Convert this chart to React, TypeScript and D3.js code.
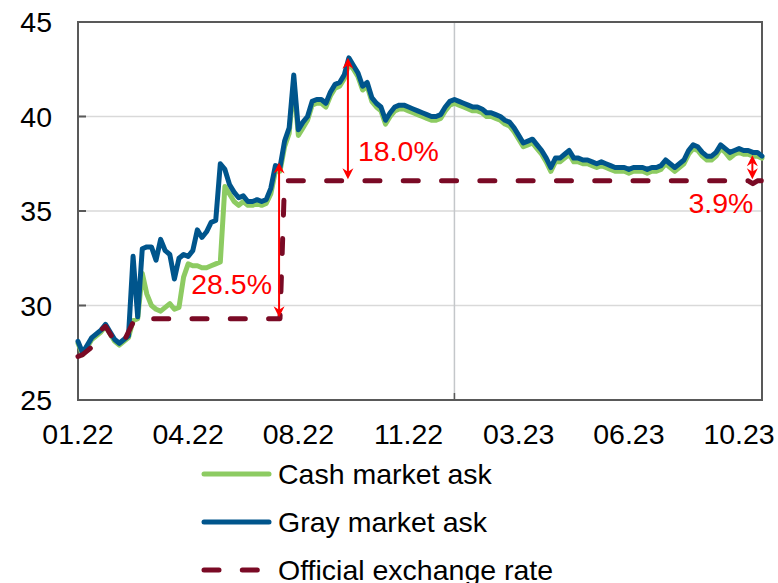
import React from "react";
import * as d3 from "d3";

// Period labels along the x axis, one every `tickStep` observations
const tickLabels = ["01.22", "04.22", "08.22", "11.22", "03.23", "06.23", "10.23"];
const tickStep = 24;
// Observation at which the calendar year changes (marked by a vertical rule)
const yearBreakIndex = 82;

const yTicks = [25, 30, 35, 40, 45];

// Gray market ask rate
const grayAsk = [
  28.1, 27.5, 27.9, 28.3, 28.5, 28.7, 29.0, 28.6, 28.2, 28.0,
  28.2, 28.4, 32.6, 29.4, 33.0, 33.1, 33.1, 32.4, 33.5, 32.9,
  32.7, 31.4, 32.5, 32.7, 32.6, 32.9, 34.0, 33.6, 33.9, 34.4,
  34.5, 37.5, 37.2, 36.4, 36.0, 35.7, 35.8, 35.5, 35.5, 35.6,
  35.5, 35.6, 36.2, 37.4, 37.3, 38.7, 39.4, 42.2, 39.3, 39.7,
  40.0, 40.8, 40.9, 40.9, 40.7, 41.3, 41.7, 41.8, 42.2, 43.1,
  42.7, 42.3, 41.6, 41.8, 41.0, 40.7, 40.5, 39.8, 40.2, 40.5,
  40.6, 40.6, 40.5, 40.4, 40.3, 40.2, 40.1, 40.0, 40.0, 40.1,
  40.5, 40.8, 40.9, 40.8, 40.7, 40.6, 40.5, 40.5, 40.4, 40.2,
  40.2, 40.1, 40.0, 39.8, 39.7, 39.4, 39.0, 38.6, 38.7, 38.8,
  38.5, 38.2, 37.8, 37.3, 37.8, 37.8, 38.0, 38.2, 37.8, 37.8,
  37.7, 37.7, 37.6, 37.5, 37.6, 37.5, 37.4, 37.3, 37.3, 37.3,
  37.2, 37.3, 37.3, 37.3, 37.2, 37.3, 37.3, 37.4, 37.7, 37.5,
  37.3, 37.5, 37.7, 38.2, 38.5, 38.4, 38.1, 37.9, 37.9, 38.1,
  38.5, 38.3, 38.1, 38.2, 38.3, 38.2, 38.2, 38.1, 38.1, 37.9,
];

// Cash market ask rate
const cashAsk = [
  28.0, 27.4, 27.8, 28.2, 28.4, 28.6, 28.9, 28.5, 28.1, 27.9,
  28.1, 28.3, 29.2, 29.3, 31.7, 30.6, 30.0, 29.8, 29.7, 29.9,
  30.1, 29.8, 29.9, 31.5, 32.2, 32.1, 32.1, 32.0, 32.0, 32.1,
  32.2, 32.3, 36.3, 35.9, 35.5, 35.3, 35.5, 35.3, 35.3, 35.4,
  35.3, 35.4, 35.9, 37.1, 37.1, 38.4, 39.1, 41.8, 39.0, 39.4,
  39.8, 40.6, 40.7, 40.7, 40.5, 41.1, 41.5, 41.6, 42.0, 42.8,
  42.5, 42.1, 41.4, 41.6, 40.8, 40.5, 40.3, 39.6, 40.0, 40.3,
  40.4, 40.4, 40.3, 40.2, 40.1, 40.0, 39.9, 39.8, 39.8, 39.9,
  40.3, 40.6, 40.7, 40.6, 40.5, 40.4, 40.3, 40.3, 40.2, 40.0,
  40.0, 39.9, 39.8, 39.6, 39.5, 39.2, 38.8, 38.4, 38.5, 38.6,
  38.3, 38.0, 37.6, 37.1, 37.6, 37.6, 37.8, 38.0, 37.6, 37.6,
  37.5, 37.5, 37.4, 37.3, 37.4, 37.3, 37.2, 37.1, 37.1, 37.1,
  37.0, 37.1, 37.1, 37.1, 37.0, 37.1, 37.1, 37.2, 37.5, 37.3,
  37.1, 37.3, 37.5, 38.0, 38.3, 38.2, 37.9, 37.7, 37.7, 37.9,
  38.3, 38.1, 37.8, 38.0, 38.1, 38.0, 38.0, 37.9, 37.9, 37.8,
];

// Official exchange rate
const officialRate = [
  27.3, 27.4, 27.6, 27.8, 28.1, 28.7, 28.9, 28.5, 28.1, 27.9,
  28.1, 28.6, 29.1, 29.3, 29.3, 29.3, 29.3, 29.3, 29.3, 29.3,
  29.3, 29.3, 29.3, 29.3, 29.3, 29.3, 29.3, 29.3, 29.3, 29.3,
  29.3, 29.3, 29.3, 29.3, 29.3, 29.3, 29.3, 29.3, 29.3, 29.3,
  29.3, 29.3, 29.3, 29.3, 29.3, 36.6, 36.6, 36.6, 36.6, 36.6,
  36.6, 36.6, 36.6, 36.6, 36.6, 36.6, 36.6, 36.6, 36.6, 36.6,
  36.6, 36.6, 36.6, 36.6, 36.6, 36.6, 36.6, 36.6, 36.6, 36.6,
  36.6, 36.6, 36.6, 36.6, 36.6, 36.6, 36.6, 36.6, 36.6, 36.6,
  36.6, 36.6, 36.6, 36.6, 36.6, 36.6, 36.6, 36.6, 36.6, 36.6,
  36.6, 36.6, 36.6, 36.6, 36.6, 36.6, 36.6, 36.6, 36.6, 36.6,
  36.6, 36.6, 36.6, 36.6, 36.6, 36.6, 36.6, 36.6, 36.6, 36.6,
  36.6, 36.6, 36.6, 36.6, 36.6, 36.6, 36.6, 36.6, 36.6, 36.6,
  36.6, 36.6, 36.6, 36.6, 36.6, 36.6, 36.6, 36.6, 36.6, 36.6,
  36.6, 36.6, 36.6, 36.6, 36.6, 36.6, 36.6, 36.6, 36.6, 36.6,
  36.6, 36.6, 36.6, 36.6, 36.6, 36.6, 36.6, 36.45, 36.6, 36.6,
];

// Premium annotations: where the arrow stands, the base rate and the premium in %
const premiumIndex = [43.8, 58.8, 146.9];
const premiumBase = [29.3, 36.6, 36.6];
const premiumPct = [28.5, 18.0, 3.9];

const legendNames = ["Cash market ask", "Gray market ask", "Official exchange rate"];

const W = 778;
const H = 583;
const FONT = "'Liberation Sans', Arial, sans-serif";
const FS = 28.5;
const GREEN = "#8DCB62";
const BLUE = "#00558C";
const MAROON = "#7A0A25";
const AXIS = "#595959";

// label placement relative to each arrow: horizontal offset, anchor, value at label centre
const labelLayout = [
  { dx: -7, anchor: "end", v: 31.15 },
  { dx: 10, anchor: "start", v: 38.2 },
  { dx: 1, anchor: "end", v: 35.4 },
];

function Arrow({ x, y1, y2 }: { x: number; y1: number; y2: number }) {
  // y1 is the lower end (larger pixel), y2 the upper end
  const L = 11;
  const hw = 5.5;
  const notch = 3.5;
  const head = (tipY: number, dir: number) =>
    `M${x},${tipY} L${x - hw},${tipY + dir * L} L${x},${tipY + dir * (L - notch)} L${x + hw},${tipY + dir * L} Z`;
  return (
    <g>
      <line x1={x} x2={x} y1={y1 - 6} y2={y2 + 6} stroke="#FF0000" strokeWidth={2} />
      <path d={head(y2, 1)} fill="#FF0000" />
      <path d={head(y1, -1)} fill="#FF0000" />
    </g>
  );
}

export default function App() {
  const x = d3.scaleLinear().domain([0, grayAsk.length - 1]).range([78, 762]);
  const y = d3.scaleLinear().domain([25, 45]).range([400, 22]);

  const line = d3
    .line<number>()
    .x((_, i) => x(i))
    .y((d) => y(d))
    .curve(d3.curveLinear);

  const inset = 1.5;

  return (
    <svg width={W} height={H} style={{ position: "absolute", left: 0, top: 0 }} fontFamily={FONT}>
      <rect width={W} height={H} fill="#ffffff" />

      {/* horizontal gridlines */}
      {yTicks.slice(1, -1).map((t) => (
        <line key={t} x1={x(0)} x2={x(grayAsk.length - 1)} y1={y(t)} y2={y(t)} stroke="#D9D9D9" strokeWidth={1.5} />
      ))}
      {/* year break rule */}
      <line x1={x(yearBreakIndex)} x2={x(yearBreakIndex)} y1={y(45)} y2={y(25)} stroke="#C4C7CA" strokeWidth={1.5} />
      <line x1={x(yearBreakIndex)} x2={x(yearBreakIndex)} y1={y(25) - 7} y2={y(25)} stroke={AXIS} strokeWidth={1.5} />

      {/* frame */}
      <rect x={x(0)} y={y(45)} width={x(grayAsk.length - 1) - x(0)} height={y(25) - y(45)} fill="none" stroke={AXIS} strokeWidth={2} />
      {yTicks.map((t) => (
        <line key={t} x1={x(0)} x2={x(0) + 8} y1={y(t)} y2={y(t)} stroke={AXIS} strokeWidth={2} />
      ))}

      {/* y tick labels */}
      {yTicks.map((t) => (
        <text key={t} x={52} y={y(t)} textAnchor="end" dominantBaseline="central" fontSize={FS} fill="#000">
          {t}
        </text>
      ))}
      {/* x tick labels */}
      {tickLabels.map((lab, k) => (
        <text key={lab} x={x(k * tickStep)} y={434} textAnchor="middle" dominantBaseline="central" fontSize={FS} fill="#000">
          {lab}
        </text>
      ))}

      {/* series */}
      <path d={line(cashAsk) ?? ""} fill="none" stroke={GREEN} strokeWidth={5} strokeLinejoin="round" strokeLinecap="round" />
      <path d={line(grayAsk) ?? ""} fill="none" stroke={BLUE} strokeWidth={5} strokeLinejoin="round" strokeLinecap="round" />
      <path
        d={line(officialRate) ?? ""}
        fill="none"
        stroke={MAROON}
        strokeWidth={5}
        strokeDasharray="15 23.3"
        strokeLinecap="round"
        strokeLinejoin="round"
      />

      {/* premium arrows */}
      {premiumIndex.map((idx, k) => {
        const top = premiumBase[k] * (1 + premiumPct[k] / 100);
        const ax = x(idx);
        const lay = labelLayout[k];
        return (
          <g key={k}>
            <Arrow x={ax} y1={y(premiumBase[k]) - inset} y2={y(top) + inset} />
            <text
              x={ax + lay.dx}
              y={y(lay.v)}
              textAnchor={lay.anchor as any}
              dominantBaseline="central"
              fontSize={FS}
              fill="#FF0000"
            >
              {premiumPct[k].toFixed(1)}%
            </text>
          </g>
        );
      })}

      {/* legend */}
      {legendNames.map((name, k) => {
        const ly = 474 + k * 48;
        const stroke = k === 0 ? GREEN : k === 1 ? BLUE : MAROON;
        return (
          <g key={name}>
            <line
              x1={204}
              x2={269}
              y1={ly}
              y2={ly}
              stroke={stroke}
              strokeWidth={5}
              strokeLinecap="round"
              strokeDasharray={k === 2 ? "15 23.3" : undefined}
            />
            <text x={278} y={ly} dominantBaseline="central" fontSize={FS} fill="#000">
              {name}
            </text>
          </g>
        );
      })}
    </svg>
  );
}
